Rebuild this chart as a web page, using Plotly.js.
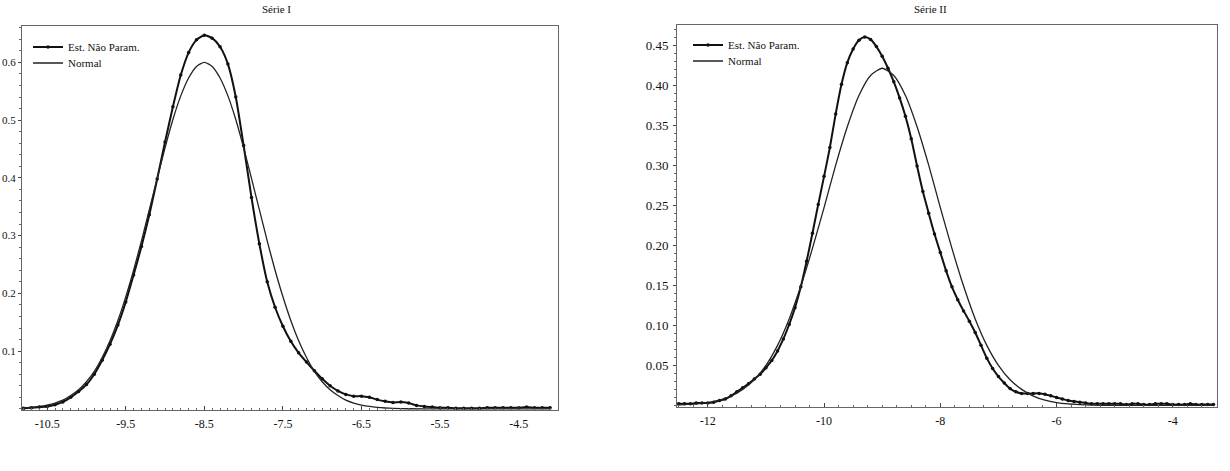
<!DOCTYPE html>
<html><head><meta charset="utf-8">
<script src="https://cdn.plot.ly/plotly-3.0.1.min.js"></script>
<style>html,body{margin:0;padding:0;background:#fff}#chart{width:1230px;height:471px}</style>
</head><body><div id="chart"></div>
<script>
// ---------- Série I ----------
const s1NpX = [-10.9,-10.8,-10.7,-10.6,-10.5,-10.4,-10.3,-10.2,-10.1,-10.0,-9.9,-9.8,-9.7,-9.6,-9.5,-9.4,-9.3,-9.2,-9.1,-9.0,-8.9,-8.8,-8.7,-8.6,-8.5,-8.4,-8.3,-8.2,-8.1,-8.0,-7.9,-7.8,-7.7,-7.6,-7.5,-7.4,-7.3,-7.2,-7.1,-7.0,-6.9,-6.8,-6.7,-6.6,-6.5,-6.4,-6.3,-6.2,-6.1,-6.0,-5.9,-5.8,-5.7,-5.6,-5.5,-5.4,-5.3,-5.2,-5.1,-5.0,-4.9,-4.8,-4.7,-4.6,-4.5,-4.4,-4.3,-4.2,-4.1];
const s1NpY = [0.001,0.001,0.002,0.003,0.004,0.007,0.012,0.020,0.030,0.042,0.060,0.084,0.112,0.145,0.185,0.232,0.281,0.336,0.398,0.462,0.523,0.578,0.617,0.639,0.647,0.642,0.627,0.597,0.540,0.456,0.366,0.286,0.220,0.176,0.143,0.117,0.097,0.081,0.066,0.052,0.040,0.031,0.025,0.022,0.022,0.020,0.016,0.013,0.011,0.012,0.010,0.006,0.004,0.003,0.002,0.002,0.001,0.001,0.001,0.001,0.002,0.002,0.002,0.002,0.002,0.003,0.002,0.002,0.002];
const s1NormX = [-10.9,-10.8,-10.7,-10.6,-10.5,-10.4,-10.3,-10.2,-10.1,-10.0,-9.9,-9.8,-9.7,-9.6,-9.5,-9.4,-9.3,-9.2,-9.1,-9.0,-8.9,-8.8,-8.7,-8.6,-8.5,-8.4,-8.3,-8.2,-8.1,-8.0,-7.9,-7.8,-7.7,-7.6,-7.5,-7.4,-7.3,-7.2,-7.1,-7.0,-6.9,-6.8,-6.7,-6.6,-6.5,-6.4,-6.3,-6.2,-6.1,-5.9,-5.5,-5.0,-4.5,-4.1];
const s1NormY = [0.0009,0.0015,0.0025,0.0041,0.0065,0.010,0.015,0.023,0.033,0.047,0.065,0.089,0.118,0.153,0.194,0.240,0.291,0.345,0.399,0.452,0.501,0.542,0.573,0.593,0.600,0.593,0.573,0.542,0.501,0.452,0.399,0.345,0.291,0.240,0.194,0.153,0.118,0.089,0.065,0.047,0.033,0.023,0.015,0.010,0.0065,0.0041,0.0025,0.0015,0.0009,0.0002,0.0,0.0,0.0,0.0];
const s1XTicks = [-10.5,-9.5,-8.5,-7.5,-6.5,-5.5,-4.5];
const s1XLabels = ["-10.5","-9.5","-8.5","-7.5","-6.5","-5.5","-4.5"];
const s1YTicks = [0.1,0.2,0.3,0.4,0.5,0.6];
const s1YLabels = ["0.1","0.2","0.3","0.4","0.5","0.6"];

// ---------- Série II ----------
const s2NpX = [-12.5,-12.4,-12.3,-12.2,-12.1,-12.0,-11.9,-11.8,-11.7,-11.6,-11.5,-11.4,-11.3,-11.2,-11.1,-11.0,-10.9,-10.8,-10.7,-10.6,-10.5,-10.4,-10.3,-10.2,-10.1,-10.0,-9.9,-9.8,-9.7,-9.6,-9.5,-9.4,-9.3,-9.2,-9.1,-9.0,-8.9,-8.8,-8.7,-8.6,-8.5,-8.4,-8.3,-8.2,-8.1,-8.0,-7.9,-7.8,-7.7,-7.6,-7.5,-7.4,-7.3,-7.2,-7.1,-7.0,-6.9,-6.8,-6.7,-6.6,-6.5,-6.4,-6.3,-6.2,-6.1,-6.0,-5.9,-5.8,-5.7,-5.6,-5.5,-5.4,-5.3,-5.2,-5.1,-5.0,-4.9,-4.8,-4.7,-4.6,-4.5,-4.4,-4.3,-4.2,-4.1,-4.0,-3.9,-3.8,-3.7,-3.6,-3.5,-3.4,-3.3];
const s2NpY = [0.002,0.002,0.002,0.003,0.003,0.003,0.004,0.006,0.008,0.012,0.017,0.022,0.027,0.033,0.039,0.047,0.056,0.068,0.083,0.101,0.122,0.148,0.180,0.215,0.251,0.286,0.322,0.364,0.401,0.428,0.445,0.456,0.460,0.457,0.448,0.436,0.421,0.404,0.384,0.361,0.333,0.299,0.267,0.240,0.214,0.191,0.168,0.148,0.132,0.118,0.105,0.091,0.075,0.059,0.046,0.036,0.028,0.021,0.017,0.015,0.015,0.015,0.015,0.014,0.012,0.010,0.008,0.006,0.005,0.004,0.003,0.002,0.002,0.002,0.002,0.002,0.002,0.001,0.002,0.002,0.001,0.001,0.002,0.002,0.002,0.001,0.001,0.001,0.002,0.001,0.001,0.001,0.001];
const s2NormX = [-12.6,-12.4,-12.2,-12.0,-11.8,-11.6,-11.4,-11.2,-11.0,-10.8,-10.6,-10.4,-10.2,-10.0,-9.8,-9.6,-9.4,-9.2,-9.0,-8.8,-8.6,-8.4,-8.2,-8.0,-7.8,-7.6,-7.4,-7.2,-7.0,-6.8,-6.6,-6.4,-6.2,-6.0,-5.8,-5.6,-5.4,-5.0,-4.5,-4.0,-3.3];
const s2NormY = [0.0004,0.0009,0.0018,0.0035,0.0065,0.0116,0.020,0.032,0.050,0.075,0.108,0.149,0.196,0.247,0.300,0.348,0.387,0.412,0.421,0.412,0.387,0.348,0.300,0.247,0.196,0.149,0.108,0.075,0.050,0.032,0.020,0.0116,0.0065,0.0035,0.0018,0.0009,0.0004,0.0,0.0,0.0,0.0];
const s2XTicks = [-12,-10,-8,-6,-4];
const s2XLabels = ["-12","-10","-8","-6","-4"];
const s2YTicks = [0.05,0.10,0.15,0.20,0.25,0.30,0.35,0.40,0.45];
const s2YLabels = ["0.05","0.10","0.15","0.20","0.25","0.30","0.35","0.40","0.45"];

const seriesNames = ["Est. Não Param.", "Normal"];
const panelTitles = ["Série I", "Série II"];

const W = 1230, H = 471;
const FONT = "Liberation Serif, Times New Roman, serif";
const ink = "#111";

function npTrace(x, y, xa, ya, leg) {
  return {x: x, y: y, xaxis: xa, yaxis: ya, legend: leg, name: seriesNames[0], showlegend: true,
    type: "scatter", mode: "lines+markers",
    line: {color: ink, width: 2, shape: "spline", smoothing: 0.6},
    marker: {color: ink, size: 3.5, symbol: "circle"}};
}
function normTrace(x, y, xa, ya, leg) {
  return {x: x, y: y, xaxis: xa, yaxis: ya, legend: leg, name: seriesNames[1], showlegend: true,
    type: "scatter", mode: "lines",
    line: {color: "#222", width: 1.3, shape: "spline", smoothing: 0.6}};
}

const data = [
  npTrace(s1NpX, s1NpY, "x", "y", "legend"),
  normTrace(s1NormX, s1NormY, "x", "y", "legend3"),
  npTrace(s2NpX, s2NpY, "x2", "y2", "legend2"),
  normTrace(s2NormX, s2NormY, "x2", "y2", "legend4")
];

function xAxis(domain, range, tv, tt, minorDt, anchor) {
  return {domain: domain, range: range, anchor: anchor, tickmode: "array", tickvals: tv, ticktext: tt,
    ticks: "inside", ticklen: 4, tickcolor: "#444", tickwidth: 1,
    minor: {dtick: minorDt, tick0: 0, ticks: "inside", ticklen: 2, tickcolor: "#666", tickwidth: 1},
    showline: true, linecolor: "#666", linewidth: 1, mirror: true,
    showgrid: false, zeroline: false, ticklabelstandoff: 3,
    tickfont: {family: FONT, size: 12, color: "#111"}};
}
function yAxis(domain, range, tv, tt, minorDt, anchor, fs, standoff) {
  return {domain: domain, range: range, anchor: anchor, tickmode: "array", tickvals: tv, ticktext: tt,
    ticks: "outside", ticklen: 3, tickcolor: "#444", tickwidth: 1,
    minor: {dtick: minorDt, tick0: 0, ticks: "outside", ticklen: 2, tickcolor: "#666", tickwidth: 1},
    showline: true, linecolor: "#666", linewidth: 1, mirror: true,
    showgrid: false, zeroline: false, ticklabelstandoff: standoff,
    tickfont: {family: FONT, size: fs, color: "#111"}};
}
function legendAt(px, py) {
  return {x: px/W, y: 1-py/H, xanchor: "left", yanchor: "middle", bgcolor: "rgba(0,0,0,0)",
    itemwidth: 30, font: {family: FONT, size: 11, color: "#111"}, tracegroupgap: 0};
}

const layout = {
  width: W, height: H,
  margin: {l: 0, r: 0, t: 0, b: 0},
  paper_bgcolor: "#fff", plot_bgcolor: "#fff",
  showlegend: true,
  xaxis: xAxis([22/W, 558/W], [-10.82, -4.0], s1XTicks, s1XLabels, 0.1, "y"),
  yaxis: yAxis([1-410/H, 1-26/H], [-0.002, 0.663], s1YTicks, s1YLabels, 0.02, "x", 11, 0),
  xaxis2: xAxis([677/W, 1217/W], [-12.53, -3.24], s2XTicks, s2XLabels, 0.25, "y2"),
  yaxis2: yAxis([1-407/H, 1-25/H], [-0.002, 0.475], s2YTicks, s2YLabels, 0.01, "x2", 13, 2),
  legend: legendAt(28, 47),
  legend3: legendAt(28, 63),
  legend2: legendAt(688, 45),
  legend4: legendAt(688, 61),
  annotations: [
    {text: panelTitles[0], xref: "paper", yref: "paper", x: 276/W, y: 1-9/H, xanchor: "center", yanchor: "middle",
      showarrow: false, font: {family: FONT, size: 11, color: "#111"}},
    {text: panelTitles[1], xref: "paper", yref: "paper", x: 930/W, y: 1-9/H, xanchor: "center", yanchor: "middle",
      showarrow: false, font: {family: FONT, size: 11, color: "#111"}}
  ]
};

Plotly.newPlot("chart", data, layout, {displayModeBar: false, staticPlot: true});
</script></body></html>
